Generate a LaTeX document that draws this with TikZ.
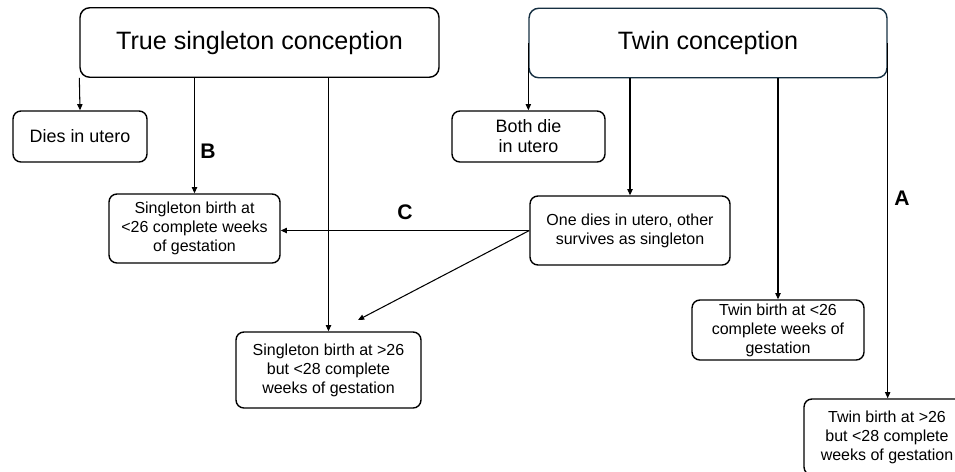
\documentclass[tikz,border=0pt]{standalone}
\usepackage{fontspec}
\setmainfont{Liberation Sans}
\usetikzlibrary{arrows.meta,positioning}
\definecolor{twinedge}{RGB}{22,48,66}

\begin{document}
\begin{tikzpicture}[x=0.02cm,y=-0.02cm]

  \tikzset{main node/.style={rectangle, draw, line width=0.8pt,
  		rounded corners=5.5pt, minimum height=1.39cm,
  		text centered, font=\fontsize{14.3}{17}\selectfont}, }
  \tikzset{death node/.style={rectangle, draw, line width=0.8pt,
  		rounded corners=4.5pt, minimum height=1.02cm, align=center,
  		font=\fontsize{10.2}{11.4}\selectfont}, }
  \tikzset{birth node/.style={rectangle, draw, line width=0.8pt,
  		rounded corners=4.5pt, align=center, inner sep=0pt,
  		font=\fontsize{9.1}{10.8}\selectfont}, }
  \tikzset{path node/.style={font=\fontsize{12}{14}\bfseries}, }
  \tikzset{linea/.style={line width=0.6pt, -{Triangle[length=3.5pt,width=3pt]}}, }
\useasboundingbox (0,0) rectangle (955,471);
\node[main node, minimum width=7.18cm] (tsc) at (259.5,42.5) {True singleton conception};
\node[main node, draw=twinedge, minimum width=7.16cm] (twc) at (708,43) {Twin conception};
\node[death node, minimum width=2.68cm] (dies) at (80,136.5) {Dies in utero};
\node[death node, minimum width=3.06cm] (both) at (528.5,136.5) {Both die\\in utero};
\node[birth node, minimum width=3.42cm, minimum height=1.38cm] (sbl) at (194.5,228.5)
  {Singleton birth at\\<26 complete weeks\\of gestation};
\node[birth node, minimum width=3.7cm, minimum height=1.52cm] (sbg) at (328.5,370)
  {Singleton birth at >26\\but <28 complete\\weeks of gestation};
\node[birth node, minimum width=4cm, minimum height=1.38cm] (one) at (630,230.5)
  {One dies in utero, other\\survives as singleton};
\node[birth node, minimum width=3.44cm, minimum height=1.2cm] (twl) at (778,330)
  {Twin birth at <26\\complete weeks of\\gestation};
\node[birth node, minimum width=3.32cm, minimum height=1.52cm] (twg) at (887,437)
  {Twin birth at >26\\but <28 complete\\weeks of gestation};
\coordinate (sbgin) at (358,320);
%% labels
\node[path node] (labB) at (208,151) {B};
\node[path node] (labC) at (405,212) {C};
\node[path node] (labA) at (902,198) {A};
%% connectors
\draw[linea] (tsc.south west) -- (dies.north);
\draw[linea] (tsc.south -| sbl.north) -- (sbl.north);
\draw[linea] (tsc.south -| sbg.north) -- (sbg.north);
\draw[linea] (twc.west) -- (twc.west |- both.north);
\draw[linea] (twc.south -| one.north) -- (one.north);
\draw[linea] (twc.south -| twl.north) -- (twl.north);
\draw[linea] (twc.east) -- (twc.east |- twg.north);
\draw[linea] (one.west) -- (one.west -| sbl.east);
\draw[linea] (one.west) -- (sbgin);
%%
\end{tikzpicture}
\end{document}
